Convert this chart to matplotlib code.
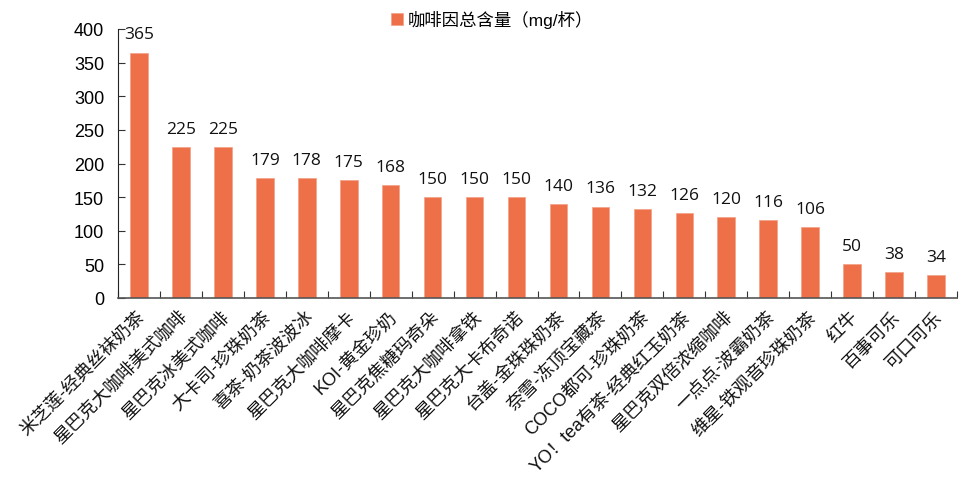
import matplotlib
matplotlib.use("Agg")
import matplotlib.pyplot as plt
import numpy as np

plt.rcParams['font.family'] = ['Liberation Sans', 'Noto Sans CJK SC', 'DejaVu Sans']

drinks = ["米芝莲-经典丝袜奶茶", "星巴克大咖啡美式咖啡", "星巴克冰美式咖啡", "大卡司-珍珠奶茶",
          "喜茶-奶茶波波冰", "星巴克大咖啡摩卡", "KOI-黄金珍奶", "星巴克焦糖玛奇朵",
          "星巴克大咖啡拿铁", "星巴克大卡布奇诺", "台盖-金珠珠奶茶", "奈雪-冻顶宝藏茶",
          "COCO都可-珍珠奶茶", "YO！tea有茶-经典红玉奶茶", "星巴克双倍浓缩咖啡",
          "一点点-波霸奶茶", "维星-铁观音珍珠奶茶", "红牛", "百事可乐", "可口可乐"]
caffeine = [365, 225, 225, 179, 178, 175, 168, 150, 150, 150,
            140, 136, 132, 126, 120, 116, 106, 50, 38, 34]
yticks = [0, 50, 100, 150, 200, 250, 300, 350, 400]

bar_color = "#ED7048"

fig = plt.figure(figsize=(9.67, 4.81), dpi=100)
ax = fig.add_axes([118/967, 1 - 299/481, (957 - 118)/967, (299 - 30)/481])

x = np.arange(len(drinks))
bars = ax.bar(x, caffeine, width=0.42, color=bar_color, edgecolor="#F4A58C",
              linewidth=0.6, label="咖啡因总含量（mg/杯）")

for xi, v in zip(x, caffeine):
    ax.text(xi, v + 15, str(v), ha="center", va="bottom", fontsize=12.5,
            family=["Open Sans", "DejaVu Sans"], color="#111111")

ax.set_xlim(-0.5, len(drinks) - 0.5)
ax.set_ylim(0, 400)
ax.set_yticks(yticks)
ax.tick_params(axis="y", direction="in", length=5, labelsize=13, pad=10,
               color="#333333")

# category boundaries carry the x ticks
ax.set_xticks(np.arange(len(drinks) + 1) - 0.5)
ax.set_xticklabels([])
ax.tick_params(axis="x", direction="in", length=5, color="#333333")
for xi, name in zip(x, drinks):
    ax.annotate(name, xy=(xi - 0.05, 0), xycoords=("data", "axes fraction"),
                xytext=(0, -7), textcoords="offset points",
                rotation=45, ha="right", va="top", rotation_mode="anchor",
                fontsize=13, color="#111111")

for s in ["top", "right"]:
    ax.spines[s].set_visible(False)
ax.spines["left"].set_color("#222222")
ax.spines["bottom"].set_color("#555555")
ax.spines["bottom"].set_linewidth(1.2)

fig.legend(handles=[bars], loc="center", bbox_to_anchor=(492/967, 1 - 20/481),
           frameon=False, fontsize=12.5, handlelength=0.7, handleheight=0.7,
           handletextpad=0.3)

fig.savefig("out.png", dpi=100)
